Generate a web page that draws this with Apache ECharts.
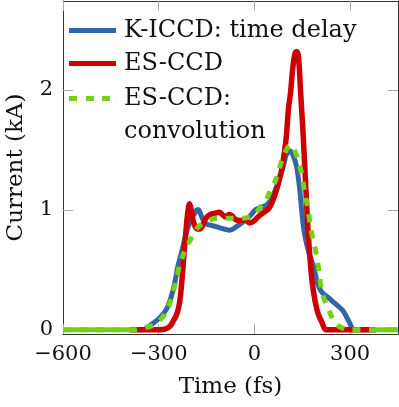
<!DOCTYPE html>
<html>
<head>
<meta charset="utf-8">
<script src="https://cdn.jsdelivr.net/npm/echarts@6/dist/echarts.min.js"></script>
<style>
  html, body { margin: 0; padding: 0; background: #fff; }
  #chart { width: 399px; height: 407px; }
</style>
</head>
<body>
<div id="chart"></div>
<script>
// K-ICCD: time delay (fs, kA)
const kiccdTime = [-390, -350, -335, -320, -305, -290, -276, -265, -255, -247, -240, -229, -219, -210, -203, -195, -187, -180, -175, -168, -160, -150, -135, -120, -109, -95, -78, -67, -56, -40, -25, -10, 3, 20, 38, 50, 59, 70, 78, 85, 93, 100, 111, 120, 132, 142, 150, 157, 165, 175, 184, 192, 200, 212, 226, 240, 257, 270, 280, 290, 298, 305, 312, 380]
const kiccdCurrent = [0, 0, 0.02, 0.05, 0.08, 0.12, 0.17, 0.24, 0.33, 0.43, 0.53, 0.64, 0.75, 0.84, 0.89, 0.94, 0.97, 1.0, 1.0, 0.96, 0.91, 0.88, 0.87, 0.86, 0.85, 0.84, 0.83, 0.84, 0.86, 0.89, 0.92, 0.96, 1.0, 1.02, 1.04, 1.08, 1.12, 1.2, 1.26, 1.31, 1.39, 1.46, 1.49, 1.46, 1.36, 1.17, 0.94, 0.8, 0.7, 0.61, 0.54, 0.45, 0.37, 0.31, 0.28, 0.25, 0.21, 0.18, 0.15, 0.1, 0.06, 0.02, 0, 0]

// ES-CCD
const esccdTime = [-390, -300, -280, -265, -255, -245, -238, -232, -226, -221, -216, -211, -206, -203, -199, -193, -186, -178, -170, -162, -152, -140, -125, -110, -100, -90, -80, -70, -60, -45, -30, -15, 0, 15, 30, 45, 55, 65, 75, 85, 95, 100, 107, 113, 120, 127, 132, 138, 145, 150, 153, 158, 165, 172, 180, 190, 200, 212, 225, 380]
const esccdCurrent = [0, 0, 0.005, 0.03, 0.07, 0.12, 0.18, 0.28, 0.45, 0.62, 0.78, 0.93, 1.03, 1.05, 1.01, 0.92, 0.86, 0.84, 0.84, 0.87, 0.93, 0.96, 0.97, 0.98, 0.96, 0.94, 0.96, 0.95, 0.92, 0.91, 0.92, 0.89, 0.91, 0.95, 0.98, 1.01, 1.06, 1.13, 1.22, 1.33, 1.5, 1.61, 1.85, 1.97, 2.18, 2.3, 2.32, 2.28, 1.97, 1.75, 1.61, 1.35, 0.97, 0.67, 0.42, 0.24, 0.13, 0.06, 0, 0]

// ES-CCD: convolution
const convTime = [-600, -390, -370, -355, -340, -325, -308, -290, -276, -265, -255, -245, -234, -224, -213, -205, -193, -182, -170, -156, -140, -125, -105, -88, -70, -56, -35, -15, 3, 15, 27, 38, 53, 64, 80, 90, 100, 108, 116, 125, 137, 147, 158, 168, 176, 184, 195, 203, 210, 218, 226, 237, 247, 260, 275, 290, 450]
const convCurrent = [0, 0, 0, 0.01, 0.02, 0.03, 0.05, 0.1, 0.15, 0.22, 0.31, 0.42, 0.54, 0.62, 0.7, 0.73, 0.79, 0.84, 0.87, 0.89, 0.91, 0.93, 0.93, 0.93, 0.93, 0.93, 0.93, 0.94, 0.97, 1.01, 1.06, 1.09, 1.18, 1.23, 1.36, 1.44, 1.5, 1.53, 1.54, 1.5, 1.42, 1.31, 1.14, 1.0, 0.86, 0.74, 0.62, 0.47, 0.33, 0.26, 0.21, 0.14, 0.08, 0.04, 0.015, 0, 0]

// baseline outside the measured window, drawn solid
const tailLeftTime = [-600, -390]
const tailRightTime = [380, 450]
const tailCurrent = [0, 0]

const xTicks = [-600, -300, 0, 300]
const yTicks = [0, 1, 2]

const BLUE = '#3465a4'
const RED = '#cc0000'
const GREEN = '#73d216'
const FONT = 'DejaVu Serif'

// legend samples: solid bar / dashed bar, 47 x 5
const ICON_SOLID = 'path://M0,0h47v5h-47z'
const ICON_DASHED = 'path://M0,0h8v5h-8z M17,0h8v5h-8z M33,0h8v5h-8z M46.9,0h0.1v5h-0.1z'

function pairs(xs, ys) {
  return xs.map((x, i) => [x, ys[i]])
}

function fmtNum(v) {
  return String(v).replace('-', '\u2212')
}

const chart = echarts.init(document.getElementById('chart'), null, { renderer: 'canvas' })

const tickStyle = { show: true, inside: true, length: 10, lineStyle: { color: '#aaa', width: 1 } }
const axisLineStyle = { show: true, onZero: false, lineStyle: { color: '#333', width: 1 } }
const legendText = { fontFamily: FONT, fontSize: 24, color: '#111', lineHeight: 33, padding: [0, 0, 0, 3] }

const option = {
  animation: false,
  backgroundColor: '#fff',
  grid: { left: 63, right: 1, top: 1, bottom: 73, outerBoundsMode: 'none' },
  legend: [
    {
      data: [
        { name: 'K-ICCD: time delay', icon: ICON_SOLID },
        { name: 'ES-CCD', icon: ICON_SOLID },
      ],
      orient: 'vertical',
      left: 69,
      top: 14,
      padding: 0,
      itemGap: 0,
      itemWidth: 47,
      itemHeight: 5,
      selectedMode: false,
      textStyle: legendText,
    },
    {
      data: [{ name: 'ES-CCD: convolution', icon: ICON_DASHED }],
      orient: 'vertical',
      left: 69,
      top: 49,
      padding: 0,
      itemWidth: 47,
      itemHeight: 5,
      selectedMode: false,
      // blank first line so "ES-CCD:" sits level with the sample
      formatter: (name) => '\n' + name.replace(': ', ':\n'),
      textStyle: legendText,
    },
  ],
  xAxis: [
    {
      type: 'value',
      min: -600,
      max: 450,
      name: 'Time (fs)',
      nameLocation: 'middle',
      nameGap: 42,
      nameTextStyle: { fontFamily: FONT, fontSize: 23, color: '#111' },
      axisLine: axisLineStyle,
      axisTick: { ...tickStyle, customValues: xTicks },
      axisLabel: { customValues: xTicks, formatter: fmtNum, fontFamily: FONT, fontSize: 21, color: '#111', margin: 10 },
      splitLine: { show: false },
    },
    {
      type: 'value',
      position: 'top',
      min: -600,
      max: 450,
      axisLine: axisLineStyle,
      axisTick: { ...tickStyle, customValues: xTicks },
      axisLabel: { show: false },
      splitLine: { show: false },
    },
  ],
  yAxis: [
    {
      type: 'value',
      min: -0.035,
      max: 2.74,
      name: 'Current (kA)',
      nameLocation: 'middle',
      nameGap: 35,
      nameRotate: 90,
      nameTextStyle: { fontFamily: FONT, fontSize: 23, color: '#111' },
      axisLine: axisLineStyle,
      axisTick: { ...tickStyle, customValues: yTicks },
      axisLabel: { customValues: yTicks, formatter: fmtNum, fontFamily: FONT, fontSize: 21, color: '#111', margin: 10 },
      splitLine: { show: false },
    },
    {
      type: 'value',
      position: 'right',
      min: -0.035,
      max: 2.74,
      axisLine: axisLineStyle,
      axisTick: { ...tickStyle, customValues: yTicks },
      axisLabel: { show: false },
      splitLine: { show: false },
    },
  ],
  series: [
    {
      name: 'K-ICCD: time delay',
      type: 'line',
      data: pairs(kiccdTime, kiccdCurrent),
      symbol: 'none',
      smooth: 0.3,
      color: BLUE,
      lineStyle: { color: BLUE, width: 5 },
    },
    {
      name: 'ES-CCD',
      type: 'line',
      data: pairs(esccdTime, esccdCurrent),
      symbol: 'none',
      smooth: 0.3,
      color: RED,
      lineStyle: { color: RED, width: 5.5 },
    },
    {
      name: 'ES-CCD: convolution',
      type: 'line',
      data: pairs(convTime, convCurrent),
      symbol: 'none',
      smooth: 0.3,
      color: GREEN,
      lineStyle: { color: GREEN, width: 5, type: [8, 8.5] },
    },
    {
      name: 'tail-left',
      type: 'line',
      data: pairs(tailLeftTime, tailCurrent),
      symbol: 'none',
      color: GREEN,
      lineStyle: { color: GREEN, width: 5 },
    },
    {
      name: 'tail-right',
      type: 'line',
      data: pairs(tailRightTime, tailCurrent),
      symbol: 'none',
      color: GREEN,
      lineStyle: { color: GREEN, width: 5 },
    },
  ],
}

chart.setOption(option)
</script>
</body>
</html>
